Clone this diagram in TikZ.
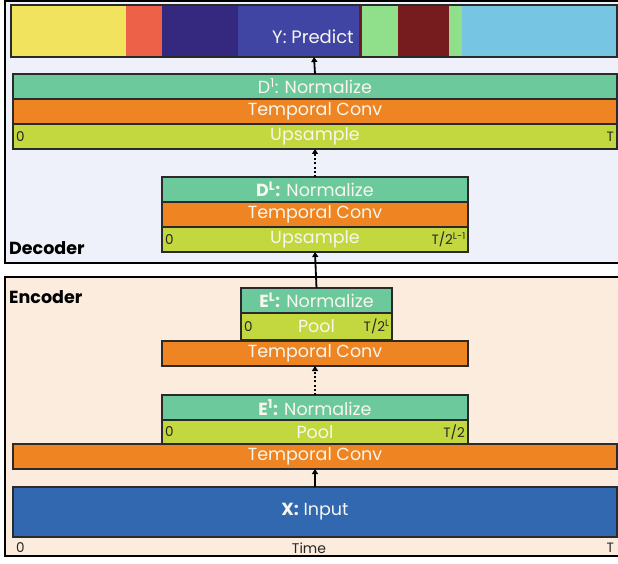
\documentclass[tikz,border=0pt]{standalone}
\usepackage{fontspec}
\setmainfont{Poppins}
\usetikzlibrary{arrows.meta}
\definecolor{decbg}{HTML}{EFF1FA}
\definecolor{encbg}{HTML}{FBECDE}
\definecolor{edge}{HTML}{2A2A2A}
\definecolor{normc}{HTML}{6CC99C}
\definecolor{convc}{HTML}{EF8522}
\definecolor{limec}{HTML}{C2D83E}
\definecolor{inputc}{HTML}{3168B0}
\definecolor{txtw}{HTML}{F8F6EE}
\definecolor{cyel}{HTML}{F2E35F}
\definecolor{cred}{HTML}{EE6149}
\definecolor{cnavy}{HTML}{35287F}
\definecolor{cblue}{HTML}{4045A3}
\definecolor{cdark}{HTML}{6E1A1E}
\definecolor{cgreen}{HTML}{90DF8A}
\definecolor{cmaroon}{HTML}{771C1E}
\definecolor{clight}{HTML}{76C5E2}
\tikzset{
  blk/.style={draw=edge, line width=1.1pt, inner sep=0pt, outer sep=0pt,
    anchor=north west, text=txtw, font=\fontsize{17.5}{17.5}\selectfont},
  corner/.style={inner sep=0pt, text=black!85, font=\fontsize{13.5}{13.5}\selectfont},
  panel/.style={draw=black, line width=2.4pt},
  sectlabel/.style={inner sep=0pt, anchor=west, font=\bfseries\fontsize{17.5}{17.5}\selectfont},
  arr/.style={line width=1.8pt, -{Triangle[length=5pt,width=6pt]}},
  dotarr/.style={line width=2pt, dash pattern=on 2pt off 2.2pt, -{Triangle[length=5pt,width=6pt]}}
}
\begin{document}
\begin{tikzpicture}[x=1pt,y=-1pt]
\useasboundingbox (0,0) rectangle (618,564);
\fill[white] (0,0) rectangle (618,564);
% panels
\draw[panel, fill=decbg] (5,1) rectangle (640,263);
\draw[panel, fill=encbg] (5,277) rectangle (640,556);
\node[sectlabel] (declab) at (9,248) {Decoder};
\node[sectlabel] (enclab) at (9,297) {Encoder};
% prediction bar
\fill[cyel] (11,5) rectangle (126,57);
\fill[cred] (126,5) rectangle (162,57);
\fill[cnavy] (162,5) rectangle (238,57);
\fill[cblue] (238,5) rectangle (359,57);
\fill[cdark] (359,5) rectangle (362,57);
\fill[cgreen] (362,5) rectangle (398,57);
\fill[cmaroon] (398,5) rectangle (449,57);
\fill[cgreen] (449,5) rectangle (462,57);
\fill[clight] (462,5) rectangle (617,57);
\node[blk, minimum width=606pt, minimum height=52pt] (ybar) at (11,5) {};
\node[text=txtw, inner sep=0pt, font=\fontsize{18}{18}\selectfont] (ytxt) at (313,37) {Y: Predict};
% decoder block 1
\node[blk, fill=normc, minimum width=604pt, minimum height=25pt] (d1n) at (13,74) {D\textsuperscript{1}: Normalize};
\node[blk, fill=convc, minimum width=604pt, minimum height=25pt] (d1c) at (13,99) {Temporal Conv};
\node[blk, fill=limec, minimum width=604pt, minimum height=25pt] (d1u) at (13,124) {Upsample};
\node[corner, anchor=west] (d1u0) at ([xshift=3pt]d1u.west) {0};
\node[corner, anchor=east] (d1uT) at ([xshift=-3pt]d1u.east) {T};
% decoder block L
\node[blk, fill=normc, minimum width=306pt, minimum height=25pt] (dln) at (162,177) {\textbf{D\textsuperscript{L}:} Normalize};
\node[blk, fill=convc, minimum width=306pt, minimum height=25pt] (dlc) at (162,202) {Temporal Conv};
\node[blk, fill=limec, minimum width=306pt, minimum height=25pt] (dlu) at (162,227) {Upsample};
\node[corner, anchor=west] (dlu0) at ([xshift=3pt]dlu.west) {0};
\node[corner, anchor=east] (dluT) at ([xshift=-2pt]dlu.east) {T/2\textsuperscript{L-1}};
% encoder block L
\node[blk, fill=normc, minimum width=151pt, minimum height=25pt] (eln) at (241,288) {\textbf{E\textsuperscript{L}:} Normalize};
\node[blk, fill=limec, minimum width=151pt, minimum height=27pt] (elp) at (241,313) {Pool};
\node[corner, anchor=west] (elp0) at ([xshift=3pt]elp.west) {0};
\node[corner, anchor=east] (elpT) at ([xshift=-2pt]elp.east) {T/2\textsuperscript{L}};
\node[blk, fill=convc, minimum width=306pt, minimum height=25pt] (elc) at (162,341) {Temporal Conv};
% encoder block 1
\node[blk, fill=normc, minimum width=306pt, minimum height=25pt] (e1n) at (162,395) {\textbf{E\textsuperscript{1}:} Normalize};
\node[blk, fill=limec, minimum width=306pt, minimum height=24pt] (e1p) at (162,420) {Pool};
\node[corner, anchor=west] (e1p0) at ([xshift=3pt]e1p.west) {0};
\node[corner, anchor=east] (e1pT) at ([xshift=-3pt]e1p.east) {T/2};
\node[blk, fill=convc, minimum width=604pt, minimum height=25pt] (e1c) at (13,444) {Temporal Conv};
% input
\node[blk, fill=inputc, minimum width=604pt, minimum height=50pt] (xin) at (13,487) {\textbf{X:} Input};
\node[corner, anchor=west] (t0) at (16,548) {0};
\node[corner, font=\fontsize{14}{14}\selectfont] (tt) at (309,548) {Time};
\node[corner, anchor=east] (tT) at (614,548) {T};
% connectors
\draw[arr] (d1n.north) -- (ybar.south);
\draw[dotarr] (dln.north) -- (d1u.south);
\draw[arr] (eln.north) -- (dlu.south);
\draw[dotarr] (e1n.north) -- (elc.south);
\draw[arr] (xin.north) -- (e1c.south);
\end{tikzpicture}
\end{document}
